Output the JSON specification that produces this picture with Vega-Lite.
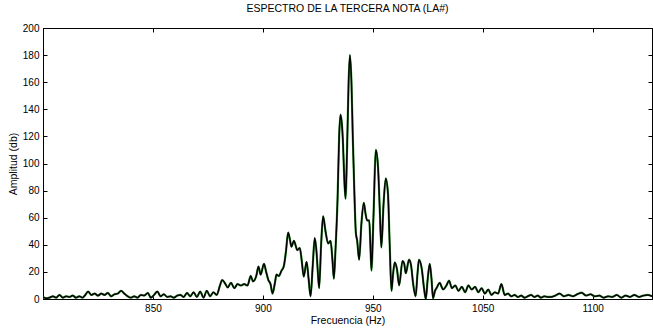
{
  "$schema": "https://vega.github.io/schema/vega-lite/v6.json",
  "width": 609,
  "height": 271,
  "autosize": {"type": "none"},
  "padding": {"left": 43, "top": 28, "right": 1, "bottom": 30},
  "background": "white",
  "title": {"text": "ESPECTRO DE LA TERCERA NOTA (LA#)", "font": "Liberation Sans", "fontSize": 10.5, "fontWeight": "normal", "color": "#000", "offset": 9},
  "config": {
    "view": {"stroke": "#000", "strokeWidth": 1},
    "axis": {"font": "Liberation Sans", "labelFont": "Liberation Sans", "titleFont": "Liberation Sans", "labelFontSize": 10, "titleFontSize": 10.5, "titleFontWeight": "normal", "labelColor": "#000", "titleColor": "#000", "domainColor": "#000", "tickColor": "#000", "grid": false}
  },
  "data": {"values": [
    {"f":800,"a":1.5},{"f":801.5,"a":0.5},{"f":803,"a":1},{"f":804.5,"a":2},{"f":806,"a":1},{"f":807.5,"a":3},{"f":809,"a":1},{"f":810.5,"a":2},{"f":812,"a":1.5},{"f":813.5,"a":2.5},{"f":815,"a":1},{"f":816.5,"a":2},{"f":818,"a":1},{"f":819,"a":2.5},{"f":820.5,"a":5.5},{"f":822,"a":3},{"f":823.5,"a":4},{"f":825,"a":2.5},{"f":826.5,"a":4},{"f":828,"a":3},{"f":829.5,"a":4.5},{"f":831,"a":2},{"f":832.5,"a":3.5},{"f":834,"a":4},{"f":835.5,"a":6},{"f":837,"a":4},{"f":838.5,"a":2},{"f":840,"a":1},{"f":841.5,"a":2},{"f":843,"a":1},{"f":844.5,"a":3},{"f":846,"a":2.5},{"f":847.7,"a":4.5},{"f":849,"a":1},{"f":850.5,"a":3},{"f":852,"a":5.5},{"f":853.5,"a":2},{"f":855,"a":3.5},{"f":856.5,"a":1.5},{"f":858,"a":2},{"f":859.5,"a":1},{"f":861,"a":2.5},{"f":862.5,"a":3},{"f":864,"a":1.5},{"f":865.5,"a":4.5},{"f":867,"a":2},{"f":868.5,"a":5},{"f":870,"a":1.5},{"f":871.5,"a":5.5},{"f":873,"a":1},{"f":874.5,"a":6},{"f":876,"a":2},{"f":877.5,"a":5},{"f":879,"a":3},{"f":880.5,"a":10},{"f":881.5,"a":14},{"f":883,"a":11},{"f":884,"a":8.5},{"f":885.5,"a":12},{"f":887,"a":8},{"f":888.5,"a":11},{"f":890,"a":10},{"f":891.5,"a":11},{"f":893,"a":10},{"f":894.5,"a":17},{"f":895.5,"a":13},{"f":897,"a":17},{"f":898,"a":24},{"f":899,"a":18},{"f":900.5,"a":26},{"f":901.5,"a":20},{"f":902.5,"a":14},{"f":903.5,"a":11},{"f":904.4,"a":4},{"f":905.5,"a":12},{"f":906.2,"a":18},{"f":907.3,"a":17},{"f":908.5,"a":21},{"f":909.5,"a":24},{"f":910.5,"a":35},{"f":911.5,"a":49},{"f":912.3,"a":44},{"f":913,"a":38.6},{"f":914.1,"a":43},{"f":915,"a":39},{"f":915.6,"a":36},{"f":916.8,"a":37.6},{"f":917.7,"a":28},{"f":918.6,"a":16.5},{"f":919.9,"a":27.5},{"f":920.8,"a":15},{"f":921.7,"a":2},{"f":922.7,"a":25},{"f":923.6,"a":45},{"f":924.4,"a":35},{"f":925,"a":20},{"f":925.6,"a":8},{"f":926.5,"a":40},{"f":927.4,"a":61},{"f":928.5,"a":50},{"f":929.7,"a":41},{"f":930.8,"a":43},{"f":931.6,"a":30},{"f":932.3,"a":15},{"f":933,"a":35},{"f":934,"a":75},{"f":934.7,"a":120},{"f":935.3,"a":136},{"f":936,"a":128},{"f":936.4,"a":117},{"f":937,"a":90},{"f":937.6,"a":74},{"f":938.3,"a":110},{"f":939,"a":160},{"f":939.6,"a":180},{"f":940.3,"a":160},{"f":940.9,"a":120},{"f":941.6,"a":80},{"f":942.3,"a":49},{"f":942.9,"a":43},{"f":943.8,"a":29},{"f":944.8,"a":55},{"f":945.9,"a":71},{"f":946.7,"a":63},{"f":947.4,"a":58},{"f":948.4,"a":58},{"f":948.9,"a":40},{"f":949.4,"a":21},{"f":950.3,"a":60},{"f":951.4,"a":110},{"f":952.4,"a":97},{"f":953.2,"a":65},{"f":953.9,"a":38},{"f":954.9,"a":70},{"f":955.9,"a":89},{"f":956.9,"a":78},{"f":957.7,"a":40},{"f":958.5,"a":6},{"f":959.2,"a":18},{"f":960,"a":27},{"f":961,"a":22},{"f":962,"a":10},{"f":963.5,"a":28},{"f":964.3,"a":26},{"f":965,"a":19},{"f":966.5,"a":29},{"f":967.4,"a":25},{"f":968.3,"a":12},{"f":969.5,"a":2},{"f":970.3,"a":18},{"f":971,"a":29},{"f":972.3,"a":22},{"f":973.3,"a":8},{"f":974.1,"a":0},{"f":975,"a":15},{"f":975.9,"a":26},{"f":976.7,"a":15},{"f":977.4,"a":0.5},{"f":978.3,"a":6},{"f":979,"a":8},{"f":980.5,"a":12},{"f":981.3,"a":9},{"f":982,"a":7},{"f":983.5,"a":10},{"f":984.7,"a":13.5},{"f":986,"a":8},{"f":987.5,"a":10},{"f":989,"a":6},{"f":990.5,"a":9},{"f":992,"a":5},{"f":993.5,"a":10},{"f":995,"a":7},{"f":996.5,"a":9},{"f":998,"a":5},{"f":999.5,"a":8},{"f":1001,"a":4},{"f":1002.5,"a":7},{"f":1004,"a":3},{"f":1005.5,"a":5},{"f":1007,"a":4},{"f":1008.5,"a":11},{"f":1010,"a":3},{"f":1011.5,"a":4},{"f":1013,"a":2},{"f":1014.5,"a":3},{"f":1016,"a":1.5},{"f":1017.5,"a":2.5},{"f":1019,"a":1},{"f":1020.5,"a":2},{"f":1022,"a":3},{"f":1023.5,"a":1.5},{"f":1025,"a":2.5},{"f":1026.5,"a":1},{"f":1028,"a":2},{"f":1029.5,"a":1.5},{"f":1031,"a":1.5},{"f":1033,"a":2.5},{"f":1035,"a":4},{"f":1037,"a":2},{"f":1039,"a":3},{"f":1041,"a":2},{"f":1043,"a":3.5},{"f":1045,"a":4.7},{"f":1047,"a":2.5},{"f":1049,"a":3.5},{"f":1051,"a":2},{"f":1053,"a":2.5},{"f":1055,"a":1},{"f":1057,"a":2},{"f":1059,"a":1.5},{"f":1061,"a":3},{"f":1063,"a":1},{"f":1065,"a":2.5},{"f":1067,"a":1.5},{"f":1069,"a":3},{"f":1071,"a":1.5},{"f":1073,"a":2.5},{"f":1075,"a":3},{"f":1077,"a":2}
  ]},
  "resolve": {"axis": {"x": "independent", "y": "independent"}},
  "layer": [
    {
      "mark": {"type": "line", "color": "#3f9a3f", "strokeWidth": 2.2, "interpolate": "monotone", "clip": true},
      "encoding": {
        "x": {"field": "f", "type": "quantitative", "scale": {"domain": [800, 1077], "nice": false, "zero": false},
          "axis": {"orient": "bottom", "title": "Frecuencia (Hz)", "values": [850, 900, 950, 1000, 1050], "labelExpr": "datum.value >= 1000 ? datum.value + 50 : datum.value", "tickSize": -4, "labelPadding": 8, "titlePadding": 2}},
        "y": {"field": "a", "type": "quantitative", "scale": {"domain": [0, 200], "nice": false},
          "axis": {"orient": "left", "title": "Amplitud (db)", "values": [0, 20, 40, 60, 80, 100, 120, 140, 160, 180, 200], "tickSize": -4, "labelPadding": 8, "titlePadding": 4}}
      }
    },
    {
      "mark": {"type": "line", "color": "#000", "strokeWidth": 1.5, "interpolate": "monotone", "clip": true},
      "encoding": {
        "x": {"field": "f", "type": "quantitative", "axis": {"orient": "top", "values": [850, 900, 950, 1000, 1050], "labels": false, "title": null, "tickSize": -4}},
        "y": {"field": "a", "type": "quantitative", "axis": {"orient": "right", "values": [0, 20, 40, 60, 80, 100, 120, 140, 160, 180, 200], "labels": false, "title": null, "tickSize": -4}}
      }
    }
  ]
}
